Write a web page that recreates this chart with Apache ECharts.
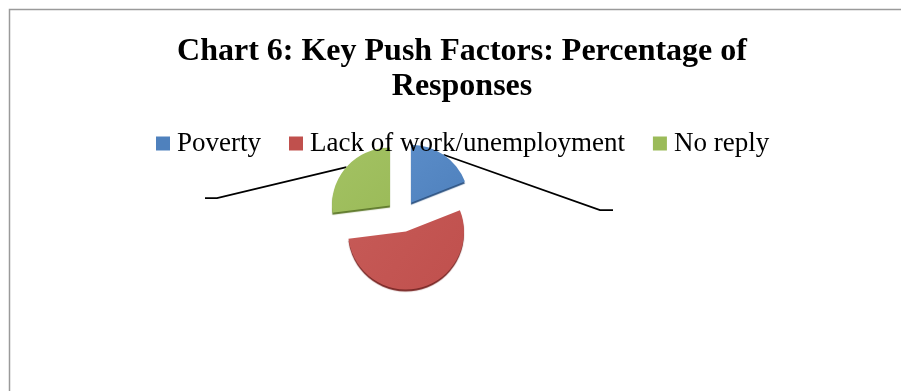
<!DOCTYPE html>
<html>
<head>
<meta charset="utf-8">
<script src="https://cdn.jsdelivr.net/npm/echarts@6/dist/echarts.min.js"></script>
<style>
  html, body { margin: 0; padding: 0; background: #ffffff; }
  #chart { width: 901px; height: 391px; }
</style>
</head>
<body>
<div id="chart"></div>
<script>
// Share of responses by push factor (percent)
const categories = ['Poverty', 'Lack of work/unemployment', 'No reply'];
const shares = [19, 54, 27];
const sliceColors = ['#4f81bd', '#c0504d', '#9bbb59'];
const sliceLight = ['#5a8cc8', '#c65a57', '#a3c263'];
const rimColors = ['#2f5584', '#7a2826', '#5f7a2c'];

const titleText = 'Chart 6: Key Push Factors: Percentage of\nResponses';

// Pie geometry
const pieCenter = [402, 216];
const pieRadius = 58;
const explode = 16;

// Where the two empty data labels sit; the leader line ends in a short horizontal tick
const labelSpots = {
  0: { x: 613, y: 210, tick: -13 },
  2: { x: 205, y: 198, tick: 12 }
};

const chart = echarts.init(document.getElementById('chart'), null, { renderer: 'canvas' });

const pieData = categories.map((name, i) => ({
  name: name,
  value: shares[i],
  selected: true,
  itemStyle: {
    color: new echarts.graphic.LinearGradient(0, 0, 1, 1, [
      { offset: 0, color: sliceLight[i] },
      { offset: 1, color: sliceColors[i] }
    ]),
    shadowColor: rimColors[i],
    shadowOffsetY: 2,
    shadowBlur: 1
  },
  label: { show: labelSpots[i] !== undefined },
  labelLine: { show: labelSpots[i] !== undefined }
}));

chart.setOption({
  backgroundColor: '#ffffff',
  animation: false,
  color: sliceColors,
  graphic: [{
    type: 'rect',
    shape: { x: 9.5, y: 9.5, width: 1000, height: 1000 },
    style: { fill: 'none', stroke: '#9a9a9a', lineWidth: 1.5 },
    silent: true
  }],
  title: {
    text: titleText,
    left: 457,
    top: 29,
    textAlign: 'center',
    textStyle: {
      fontFamily: 'Liberation Serif',
      fontWeight: 'bold',
      fontSize: 32,
      lineHeight: 35,
      color: '#000000'
    }
  },
  legend: {
    data: categories.map((name, i) => ({ name: name, itemStyle: { color: sliceColors[i] } })),
    left: 151,
    top: 125,
    itemWidth: 14,
    itemHeight: 14,
    itemGap: 28,
    icon: 'rect',
    selectedMode: false,
    textStyle: {
      fontFamily: 'Liberation Serif',
      fontSize: 27,
      color: '#000000',
      padding: [0, 0, 0, 2]
    }
  },
  series: [{
    type: 'pie',
    center: pieCenter,
    radius: pieRadius,
    startAngle: 90,
    clockwise: true,
    selectedMode: 'multiple',
    selectedOffset: explode,
    avoidLabelOverlap: false,
    z: 1,
    label: {
      formatter: ' ',
      fontSize: 12,
      position: 'outside'
    },
    labelLine: {
      lineStyle: { color: '#000000', width: 1.75 }
    },
    labelLayout: function (params) {
      const spot = labelSpots[params.dataIndex];
      if (!spot || !params.labelLinePoints) return {};
      const anchor = params.labelLinePoints[0];
      // the label and its line travel with the exploded slice, so place them
      // in the slice's own (unexploded) frame
      const vx = anchor[0] - pieCenter[0];
      const vy = anchor[1] - pieCenter[1];
      const len = Math.sqrt(vx * vx + vy * vy) || 1;
      const ox = vx / len * explode;
      const oy = vy / len * explode;
      const lx = spot.x - ox;
      const ly = spot.y - oy;
      return {
        x: lx,
        y: ly,
        labelLinePoints: [
          [anchor[0], anchor[1]],
          [lx + spot.tick, ly],
          [lx, ly]
        ]
      };
    },
    emphasis: { disabled: true },
    data: pieData
  }]
});
</script>
</body>
</html>
